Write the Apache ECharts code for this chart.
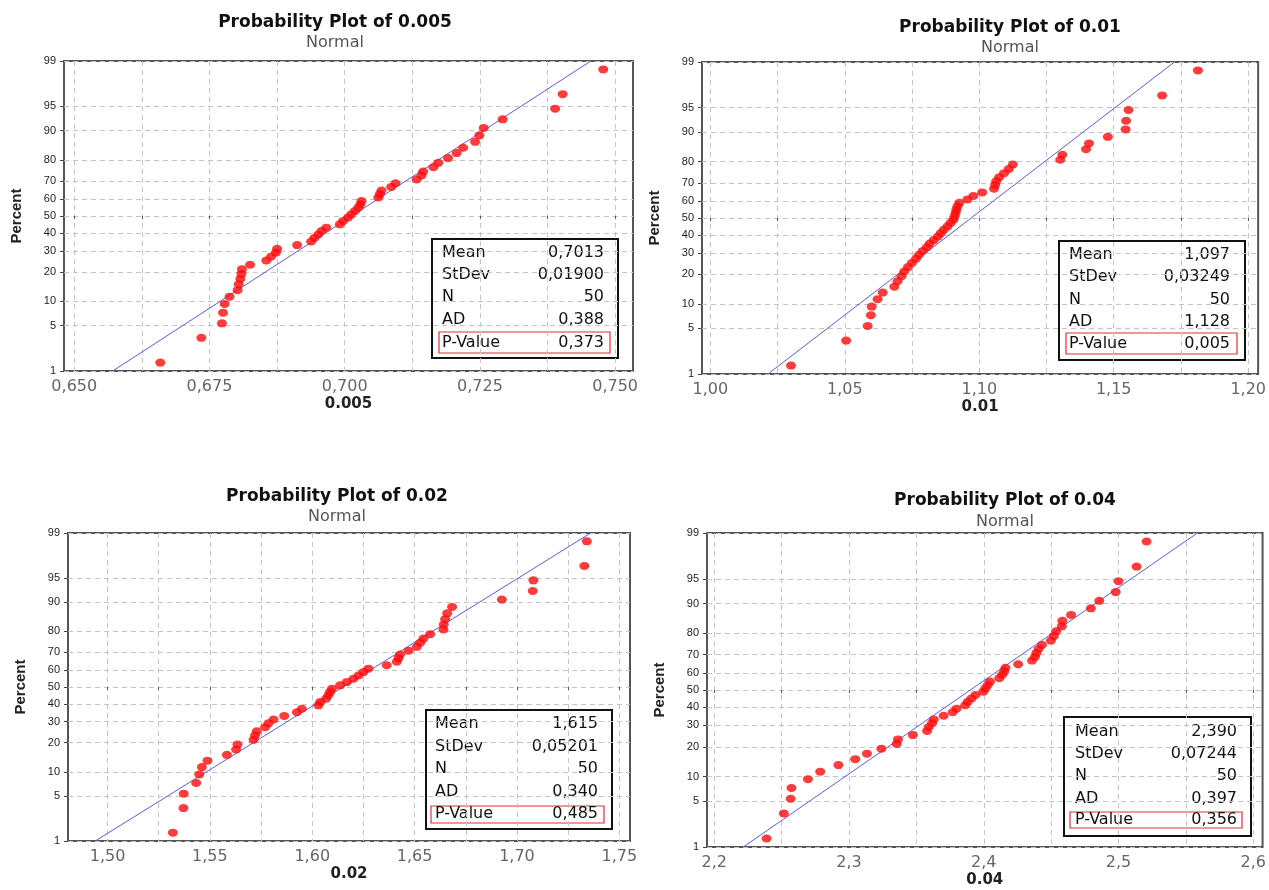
<!DOCTYPE html>
<html><head><meta charset="utf-8">
<script src="https://cdn.jsdelivr.net/npm/echarts@6/dist/echarts.min.js"></script>
<style>html,body{margin:0;padding:0;background:#fff}#c{width:1269px;height:890px}</style>
</head><body><div id="c"></div>
<script>
// ---------- data ----------
const percentTicks = [1, 5, 10, 20, 30, 40, 50, 60, 70, 80, 90, 95, 99];

const x005 = [0.6659,0.6735,0.6773,0.6775,0.6778,0.6787,0.6802,0.6804,0.6807,0.6809,0.6810,0.6825,0.6855,0.6864,0.6873,0.6875,0.6912,0.6938,0.6944,0.6951,0.6957,0.6966,0.6991,0.6997,0.7006,0.7012,0.7019,0.7025,0.7029,0.7031,0.7062,0.7065,0.7068,0.7086,0.7094,0.7133,0.7142,0.7145,0.7164,0.7173,0.7191,0.7207,0.7219,0.7241,0.7249,0.7257,0.7292,0.7389,0.7403,0.7478];
const x001 = [1.0300,1.0505,1.0585,1.0597,1.0600,1.0622,1.0641,1.0684,1.0696,1.0711,1.0721,1.0735,1.0750,1.0765,1.0776,1.0790,1.0805,1.0816,1.0831,1.0846,1.0857,1.0868,1.0882,1.0893,1.0904,1.0908,1.0912,1.0915,1.0919,1.0926,1.0956,1.0978,1.1011,1.1055,1.1059,1.1063,1.1074,1.1092,1.1110,1.1125,1.1301,1.1309,1.1397,1.1408,1.1478,1.1544,1.1546,1.1555,1.1680,1.1813];
const x002 = [1.5319,1.5371,1.5372,1.5433,1.5448,1.5461,1.5488,1.5583,1.5628,1.5635,1.5713,1.5721,1.5729,1.5770,1.5786,1.5811,1.5863,1.5925,1.5949,1.6030,1.6039,1.6068,1.6079,1.6087,1.6096,1.6136,1.6169,1.6201,1.6226,1.6250,1.6274,1.6364,1.6413,1.6421,1.6429,1.6470,1.6511,1.6527,1.6543,1.6576,1.6641,1.6642,1.6649,1.6659,1.6683,1.6926,1.7077,1.7080,1.7329,1.7341];
const x004 = [2.2388,2.2516,2.2567,2.2573,2.2695,2.2786,2.2921,2.3046,2.3133,2.3240,2.3354,2.3363,2.3474,2.3579,2.3592,2.3616,2.3629,2.3702,2.3769,2.3798,2.3862,2.3881,2.3909,2.3938,2.3997,2.4012,2.4030,2.4046,2.4115,2.4137,2.4152,2.4161,2.4255,2.4358,2.4380,2.4390,2.4407,2.4432,2.4498,2.4520,2.4537,2.4579,2.4583,2.4648,2.4795,2.4857,2.4979,2.4999,2.5134,2.5208];

const xTicks005 = [0.650, 0.675, 0.700, 0.725, 0.750];
const xTicks001 = [1.00, 1.05, 1.10, 1.15, 1.20];
const xTicks002 = [1.50, 1.55, 1.60, 1.65, 1.70, 1.75];
const xTicks004 = [2.2, 2.3, 2.4, 2.5, 2.6];

const statLabels = ['Mean', 'StDev', 'N', 'AD', 'P-Value'];
const stats005 = ['0,7013', '0,01900', '50', '0,388', '0,373'];
const stats001 = ['1,097', '0,03249', '50', '1,128', '0,005'];
const stats002 = ['1,615', '0,05201', '50', '0,340', '0,485'];
const stats004 = ['2,390', '0,07244', '50', '0,397', '0,356'];

const fit005 = [0.7013, 0.01900];
const fit001 = [1.097, 0.03249];
const fit002 = [1.615, 0.05201];
const fit004 = [2.390, 0.07244];

const names = ['0.005', '0.01', '0.02', '0.04'];

// ---------- helpers ----------
function invNorm(p) {
  const a = [-3.969683028665376e+01, 2.209460984245205e+02, -2.759285104469687e+02, 1.383577518672690e+02, -3.066479806614716e+01, 2.506628277459239e+00];
  const b = [-5.447609879822406e+01, 1.615858368580409e+02, -1.556989798598866e+02, 6.680131188771972e+01, -1.328068155288572e+01];
  const c = [-7.784894002430293e-03, -3.223964580411365e-01, -2.400758277161838e+00, -2.549732539343734e+00, 4.374664141464968e+00, 2.938163982698783e+00];
  const d = [7.784695709041462e-03, 3.224671290700398e-01, 2.445134137142996e+00, 3.754408661907416e+00];
  const pl = 0.02425, ph = 1 - pl;
  let q, r;
  if (p < pl) { q = Math.sqrt(-2 * Math.log(p)); return (((((c[0]*q+c[1])*q+c[2])*q+c[3])*q+c[4])*q+c[5]) / ((((d[0]*q+d[1])*q+d[2])*q+d[3])*q+1); }
  if (p <= ph) { q = p - 0.5; r = q*q; return (((((a[0]*r+a[1])*r+a[2])*r+a[3])*r+a[4])*r+a[5])*q / (((((b[0]*r+b[1])*r+b[2])*r+b[3])*r+b[4])*r+1); }
  q = Math.sqrt(-2 * Math.log(1 - p)); return -(((((c[0]*q+c[1])*q+c[2])*q+c[3])*q+c[4])*q+c[5]) / ((((d[0]*q+d[1])*q+d[2])*q+d[3])*q+1);
}
const zTicks = percentTicks.map(p => invNorm(p / 100));
const zMin = zTicks[0], zMax = zTicks[zTicks.length - 1];
function pctLabel(v) {
  let best = 0, bd = 1e9;
  zTicks.forEach((z, i) => { const dd = Math.abs(z - v); if (dd < bd) { bd = dd; best = i; } });
  return String(percentTicks[best]);
}
function halfSteps(t) {
  const out = [];
  for (let i = 0; i < t.length; i++) { out.push(t[i]); if (i < t.length - 1) out.push((t[i] + t[i + 1]) / 2); }
  return out;
}

// ---------- layout ----------
const panels = [
  { xs: x005, ticks: xTicks005, dec: 3, stats: stats005, fit: fit005, min: 0.6481, max: 0.7533,
    grid: { left: 64, top: 61, width: 569, height: 310 }, tx: 330, tt: 9, gap: 4, box: [432, 239, 186, 119], rows: [253, 275, 297, 320, 343], lx: 442, vx: 604, red: [439, 332, 171, 21] },
  { xs: x001, ticks: xTicks001, dec: 2, stats: stats001, fit: fit001, min: 0.9969, max: 1.2037,
    grid: { left: 702, top: 62, width: 562, height: 312 }, tx: 1005, tt: 14, gap: 3.5, box: [1059, 241, 186, 119], rows: [255, 277, 300, 322, 344], lx: 1069, vx: 1230, red: [1066, 333, 171, 21] },
  { xs: x002, ticks: xTicks002, dec: 2, stats: stats002, fit: fit002, min: 1.4807, max: 1.7552,
    grid: { left: 68, top: 533, width: 562, height: 308 }, tx: 332, tt: 483, gap: 4, box: [426, 710, 186, 119], rows: [724, 747, 769, 792, 814], lx: 435, vx: 598, red: [431, 806, 173, 17] },
  { xs: x004, ticks: xTicks004, dec: 1, stats: stats004, fit: fit004, min: 2.1946, max: 2.6069,
    grid: { left: 707, top: 533, width: 559, height: 314 }, tx: 1000, tt: 487.5, gap: 4, box: [1064, 717, 187, 119], rows: [732, 754, 776, 799, 820], lx: 1075, vx: 1237, red: [1070, 812, 172, 16] }
];

const option = { animation: false, backgroundColor: '#fff', title: [], grid: [], xAxis: [], yAxis: [], series: [], graphic: [] };
const gridLine = { show: true, lineStyle: { color: '#c4c4c4', type: [5, 4], width: 1 } };

panels.forEach((P, k) => {
  option.title.push({
    text: 'Probability Plot of ' + names[k], subtext: 'Normal',
    left: P.tx, top: P.tt, textAlign: 'center', itemGap: P.gap,
    textStyle: { fontFamily: 'DejaVu Sans', fontWeight: 'bold', fontSize: 17, color: '#111' },
    subtextStyle: { fontFamily: 'DejaVu Sans', fontSize: 16, color: '#555' }
  });
  option.grid.push(Object.assign({ show: true, borderColor: '#555', borderWidth: 2, backgroundColor: '#fff' }, P.grid));
  option.xAxis.push({
    type: 'value', gridIndex: k, min: P.min, max: P.max,
    name: names[k], nameLocation: 'middle', nameGap: 26,
    nameTextStyle: { fontFamily: 'DejaVu Sans', fontWeight: 'bold', fontSize: 15, color: '#222' },
    axisLine: { show: false },
    axisTick: { show: true, customValues: halfSteps(P.ticks), length: 3, lineStyle: { color: '#555' } },
    axisLabel: { customValues: P.ticks, margin: 8, fontFamily: 'DejaVu Sans', fontSize: 16, color: '#666',
      formatter: v => v.toFixed(P.dec).replace('.', ',') },
    splitLine: gridLine
  });
  option.yAxis.push({
    type: 'value', gridIndex: k, min: zMin, max: zMax,
    name: 'Percent', nameLocation: 'middle', nameGap: 40, nameRotate: 90,
    nameTextStyle: { fontFamily: 'Liberation Sans', fontWeight: 'bold', fontSize: 15, color: '#222' },
    axisLine: { show: false },
    axisTick: { show: true, customValues: zTicks, length: 4, lineStyle: { color: '#444' } },
    axisLabel: { customValues: zTicks, margin: 8, fontFamily: 'Liberation Sans', fontSize: 11, color: '#222', formatter: pctLabel },
    splitLine: gridLine
  });
  const n = P.xs.length;
  option.series.push({
    type: 'line', xAxisIndex: k, yAxisIndex: k, symbol: 'none', silent: true, z: 2,
    lineStyle: { color: '#5a5af5', width: 1 },
    data: [[P.fit[0] + zMin * P.fit[1], zMin], [P.fit[0] + zMax * P.fit[1], zMax]]
  });
  option.series.push({
    type: 'scatter', xAxisIndex: k, yAxisIndex: k, z: 3,
    symbol: 'circle', symbolSize: [10, 8], itemStyle: { color: '#ff0a0a' },
    data: P.xs.map((x, i) => [x, invNorm((i + 1 - 0.3) / (n + 0.4))])
  });
  const children = [];
  children.push({ type: 'rect', shape: { x: P.box[0], y: P.box[1], width: P.box[2], height: P.box[3] },
    style: { fill: '#fff', stroke: '#111', lineWidth: 2 } });
  children.push({ type: 'rect', shape: { x: P.red[0], y: P.red[1], width: P.red[2], height: P.red[3] },
    style: { fill: 'none', stroke: '#e03030', lineWidth: 1.2 } });
  statLabels.forEach((s, i) => {
    children.push({ type: 'text', x: P.lx, y: P.rows[i], style: { text: s, font: '16px "DejaVu Sans"', fill: '#111', align: 'left', verticalAlign: 'middle' } });
    children.push({ type: 'text', x: P.vx, y: P.rows[i], style: { text: P.stats[i], font: '16px "DejaVu Sans"', fill: '#111', align: 'right', verticalAlign: 'middle' } });
  });
  option.graphic.push({ type: 'group', z: 100, children });
});

const chart = echarts.init(document.getElementById('c'), null, { renderer: 'canvas' });
chart.setOption(option);
</script></body></html>
